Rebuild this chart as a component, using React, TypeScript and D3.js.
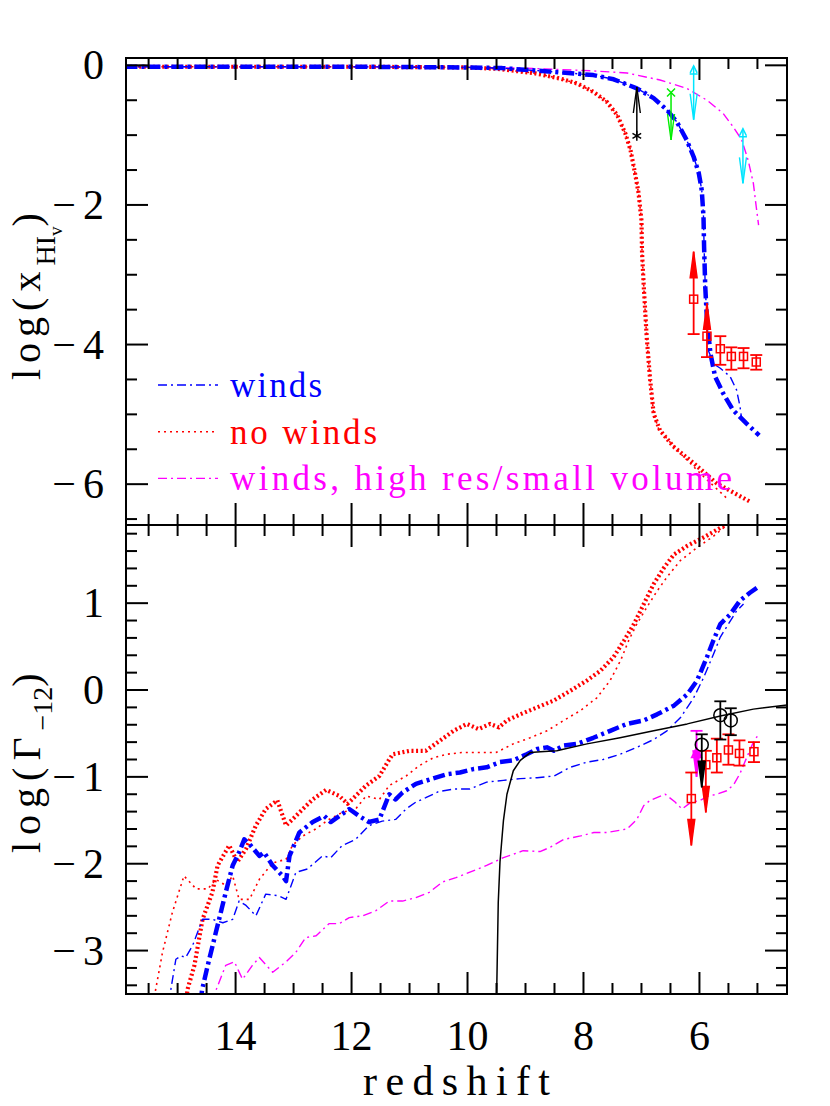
import React, { useEffect, useRef } from "react";
import * as d3 from "d3";

// axis ranges
const zRange = [15.89, 4.49];
const xhiRange = [0.105, -6.585];
const gammaRange = [1.9, -3.5];

const zTickLabels = ["14", "12", "10", "8", "6"];
const xhiTickLabels = ["0", "−2", "−4", "−6"];
const gammaTickLabels = ["1", "0", "−1", "−2", "−3"];

// top panel: log x_HI,v   ([redshift, value])
const windsXhi = [
  [15.9, -0.02], [12, -0.02], [10, -0.03], [9.4, -0.04], [8.9, -0.07], [8.4, -0.1],
  [7.83, -0.14], [7.48, -0.2], [7.08, -0.33], [6.79, -0.47], [6.56, -0.64], [6.39, -0.81],
  [6.22, -1.07], [6.1, -1.31], [6.01, -1.55], [5.96, -1.79], [5.93, -2.17], [5.92, -2.6],
  [5.9, -3.17], [5.87, -3.65], [5.81, -4.13], [5.73, -4.46], [5.59, -4.7], [5.42, -4.94],
  [5.19, -5.13], [4.97, -5.3],
];
const windsXhiThin = [
  [15.9, -0.02], [12, -0.02], [10, -0.03], [9.4, -0.04], [8.9, -0.07], [8.4, -0.1],
  [7.83, -0.14], [7.48, -0.2], [7.08, -0.33], [6.79, -0.47], [6.56, -0.64], [6.39, -0.81],
  [6.22, -1.07], [6.1, -1.31], [6.01, -1.55], [5.96, -1.79], [5.93, -2.17], [5.92, -2.6],
  [5.9, -3.17], [5.87, -3.65], [5.84, -4.1], [5.75, -4.28], [5.64, -4.34], [5.47, -4.46],
  [5.36, -4.65], [5.3, -4.89], [5.27, -5.08],
];
const noWindsXhi = [
  [15.9, -0.02], [12, -0.02], [10, -0.03], [9.5, -0.05], [8.86, -0.11], [8.4, -0.19],
  [8.11, -0.26], [7.83, -0.38], [7.6, -0.52], [7.42, -0.71], [7.28, -0.97], [7.19, -1.21],
  [7.11, -1.55], [7.05, -1.83], [7.0, -2.22], [6.99, -2.69], [6.96, -3.17], [6.91, -3.89],
  [6.85, -4.51], [6.79, -4.99], [6.68, -5.23], [6.45, -5.46], [6.1, -5.7], [5.7, -5.99],
  [5.13, -6.25],
];
const noWindsXhiThin = [
  [15.9, -0.02], [12, -0.02], [10, -0.03], [9.5, -0.05], [8.86, -0.11], [8.4, -0.19],
  [8.11, -0.26], [7.83, -0.38], [7.6, -0.52], [7.42, -0.71], [7.28, -0.97], [7.19, -1.21],
  [7.11, -1.55], [7.05, -1.83], [7.0, -2.22], [6.99, -2.69], [6.96, -3.17], [6.91, -3.89],
  [6.85, -4.51], [6.79, -4.99], [6.7, -5.22], [6.33, -5.56], [5.93, -5.89], [5.53, -6.2],
];
const hiresXhi = [
  [15.9, -0.02], [12, -0.02], [10, -0.03], [9, -0.04], [8.4, -0.06], [7.83, -0.08],
  [7.25, -0.11], [6.68, -0.21], [6.22, -0.33], [5.87, -0.5], [5.59, -0.69], [5.42, -0.88],
  [5.27, -1.07], [5.16, -1.36], [5.07, -1.69], [5.02, -2.03], [4.98, -2.29],
];

// bottom panel: log Gamma_-12
const windsGamma = [
  [14.6, -3.6], [14.58, -3.46], [14.48, -3.17], [14.34, -2.79], [14.17, -2.33], [14.05, -2.02],
  [13.94, -1.87], [13.85, -1.72], [13.74, -1.79], [13.59, -1.91], [13.51, -1.87], [13.36, -2.02],
  [13.19, -2.14], [13.13, -2.2], [13.07, -1.91], [12.9, -1.64], [12.67, -1.52], [12.47, -1.45],
  [12.36, -1.52], [12.21, -1.45], [12.04, -1.37], [11.87, -1.45], [11.7, -1.52], [11.52, -1.49],
  [11.35, -1.2], [11.24, -1.26], [11.12, -1.18], [10.89, -1.08], [10.6, -1.02], [10.36, -0.97],
  [10.13, -0.95], [9.9, -0.91], [9.67, -0.89], [9.44, -0.83], [9.21, -0.81], [8.98, -0.74],
  [8.8, -0.68], [8.63, -0.66], [8.51, -0.7], [8.34, -0.64], [8.11, -0.62], [7.83, -0.55],
  [7.54, -0.47], [7.25, -0.39], [6.96, -0.35], [6.73, -0.28], [6.44, -0.18], [6.21, -0.05],
  [6.04, 0.11], [5.87, 0.38], [5.76, 0.57], [5.64, 0.76], [5.47, 0.87], [5.3, 1.03],
  [5.13, 1.12], [4.96, 1.2],
];
const windsGammaThin = [
  [15.15, -3.6], [15.11, -3.42], [15.03, -3.1], [14.94, -3.06], [14.86, -3.08], [14.74, -2.94],
  [14.57, -2.64], [14.4, -2.64], [14.22, -2.68], [14.05, -2.64], [13.94, -2.43], [13.82, -2.48],
  [13.65, -2.6], [13.48, -2.35], [13.25, -2.37], [13.13, -2.41], [12.96, -2.1], [12.76, -2.06],
  [12.5, -1.91], [12.36, -1.93], [12.16, -1.79], [11.93, -1.72], [11.7, -1.56], [11.47, -1.51],
  [11.24, -1.49], [11.06, -1.37], [10.89, -1.29], [10.72, -1.24], [10.5, -1.17], [10.24, -1.14],
  [9.96, -1.14], [9.67, -1.06], [9.38, -1.04], [9.09, -1.02], [8.8, -1.01], [8.51, -0.99],
  [8.23, -0.89], [7.94, -0.83], [7.66, -0.8], [7.37, -0.74], [7.08, -0.66], [6.79, -0.57],
  [6.56, -0.47], [6.33, -0.32], [6.1, -0.09], [5.93, 0.14], [5.76, 0.41], [5.64, 0.61],
  [5.5, 0.76], [5.36, 0.91], [5.24, 0.99],
];
const noWindsGamma = [
  [14.85, -3.6], [14.83, -3.45], [14.71, -3.17], [14.57, -2.64], [14.4, -2.33], [14.31, -2.02],
  [14.11, -1.79], [13.97, -1.98], [13.82, -1.83], [13.65, -1.56], [13.48, -1.37], [13.28, -1.27],
  [13.13, -1.56], [13.02, -1.49], [12.84, -1.37], [12.67, -1.26], [12.44, -1.15], [12.21, -1.22],
  [12.07, -1.31], [11.93, -1.22], [11.75, -1.1], [11.52, -0.99], [11.35, -0.8], [11.29, -0.74],
  [11.0, -0.7], [10.72, -0.7], [10.47, -0.58], [10.24, -0.47], [10.01, -0.39], [9.81, -0.45],
  [9.61, -0.39], [9.46, -0.43], [9.32, -0.35], [9.09, -0.28], [8.8, -0.2], [8.51, -0.12],
  [8.23, -0.01], [7.94, 0.11], [7.71, 0.22], [7.48, 0.38], [7.3, 0.57], [7.13, 0.76],
  [6.96, 0.99], [6.79, 1.22], [6.61, 1.41], [6.44, 1.56], [6.21, 1.66], [5.92, 1.76],
  [5.58, 1.89], [5.45, 1.95],
];
const noWindsGammaThin = [
  [15.42, -3.6], [15.26, -3.02], [15.09, -2.56], [14.89, -2.14], [14.68, -2.29], [14.48, -2.29],
  [14.34, -2.18], [14.17, -2.25], [14.05, -2.14], [13.94, -2.41], [13.76, -2.41], [13.59, -2.18],
  [13.36, -1.99], [13.13, -1.95], [13.02, -1.79], [12.84, -1.68], [12.62, -1.6], [12.39, -1.49],
  [12.16, -1.41], [11.93, -1.37], [11.75, -1.22], [11.52, -1.26], [11.35, -1.1], [11.06, -0.99],
  [10.83, -0.87], [10.59, -0.78], [10.36, -0.74], [10.1, -0.72], [9.8, -0.72], [9.51, -0.72],
  [9.21, -0.62], [8.92, -0.55], [8.63, -0.47], [8.34, -0.35], [8.06, -0.24], [7.77, -0.09],
  [7.54, 0.11], [7.36, 0.34], [7.22, 0.57], [7.08, 0.76], [6.91, 0.95], [6.73, 1.14],
  [6.56, 1.3], [6.33, 1.49], [6.04, 1.64], [5.76, 1.77], [5.58, 1.87], [5.45, 1.95],
];
const hiresGamma = [
  [14.36, -3.6], [14.34, -3.46], [14.17, -3.17], [14.02, -3.13], [13.88, -3.33], [13.71, -3.17],
  [13.59, -3.08], [13.36, -3.25], [13.13, -3.13], [12.96, -3.02], [12.79, -2.85], [12.61, -2.83],
  [12.39, -2.69], [12.21, -2.69], [12.04, -2.62], [11.81, -2.6], [11.58, -2.54], [11.35, -2.43],
  [11.12, -2.43], [10.89, -2.39], [10.66, -2.33], [10.43, -2.21], [10.2, -2.16], [9.97, -2.1],
  [9.67, -2.02], [9.38, -1.93], [9.04, -1.85], [8.75, -1.86], [8.57, -1.81], [8.34, -1.72],
  [8.05, -1.68], [7.82, -1.64], [7.59, -1.64], [7.25, -1.6], [7.08, -1.49], [6.96, -1.33],
  [6.85, -1.27], [6.59, -1.2], [6.42, -1.29], [6.3, -1.37], [6.16, -1.3], [5.99, -1.27],
  [5.84, -1.22], [5.7, -1.2], [5.53, -1.16], [5.41, -1.09], [5.3, -0.96], [5.18, -0.77],
  [5.07, -0.6], [4.98, -0.51],
];
const modelGamma = [
  [9.5, -3.6], [9.47, -2.45], [9.44, -1.98], [9.38, -1.5], [9.32, -1.2], [9.21, -0.93],
  [9.09, -0.81], [8.92, -0.72], [8.74, -0.71], [8.46, -0.7], [7.94, -0.62], [7.37, -0.55],
  [6.79, -0.47], [6.21, -0.39], [5.64, -0.3], [5.07, -0.22], [4.45, -0.17],
];

// observed points: value, bar ends, and which end is a limit arrow
const fanXhi = [
  { z: 6.1, v: -3.35, lo: -3.85, hi: -2.67, limit: "up" },
  { z: 5.87, v: -3.88, lo: -4.18, hi: -3.41, limit: "up" },
  { z: 5.64, v: -4.06, lo: -4.29, hi: -3.88, limit: "" },
  { z: 5.45, v: -4.17, lo: -4.36, hi: -4.04, limit: "" },
  { z: 5.24, v: -4.17, lo: -4.34, hi: -4.05, limit: "" },
  { z: 5.02, v: -4.25, lo: -4.36, hi: -4.15, limit: "" },
];
const fanGamma = [
  { z: 6.14, v: -1.25, lo: -1.79, hi: -0.95, limit: "down" },
  { z: 5.89, v: -0.86, lo: -1.41, hi: -0.7, limit: "down" },
  { z: 5.7, v: -0.78, lo: -0.95, hi: -0.56, limit: "" },
  { z: 5.5, v: -0.69, lo: -0.86, hi: -0.51, limit: "" },
  { z: 5.31, v: -0.73, lo: -0.87, hi: -0.58, limit: "" },
  { z: 5.06, v: -0.71, lo: -0.83, hi: -0.6, limit: "" },
];
const bhGamma = [
  { z: 5.96, v: -0.63, lo: -1.12, hi: -0.51, limit: "down" },
  { z: 5.64, v: -0.29, lo: -0.57, hi: -0.13, limit: "" },
  { z: 5.46, v: -0.35, lo: -0.52, hi: -0.21, limit: "" },
];
const magentaGamma = [{ z: 6.05, v: -0.72, lo: -1.0, hi: -0.47, limit: "down" }];
const blackLimitXhi = [{ z: 7.08, v: -1.01, tip: -0.31 }];
const greenLimitXhi = [{ z: 6.49, v: -0.39, tip: -1.07 }];
const cyanLimitXhi = [
  { z: 6.1, v: -0.08, tip: -0.78 },
  { z: 5.25, v: -0.98, tip: -1.69 },
];

const legendLabels = ["winds", "no winds", "winds, high res/small volume"];
const legendWidths = [92, 147, 502];

const BLUE = "#0000ff";
const RED = "#ff0000";
const MAGENTA = "#ff00ff";
const FONT = "Liberation Serif";

const App = () => {
  const svgRef = useRef(null);

  useEffect(() => {
    const svg = d3.select(svgRef.current);
    svg.selectAll("*").remove();

    const L = 126, R = 787, T = 58, M = 525, B = 994;

    const x = d3.scaleLinear().domain(zRange).range([L, R]);
    const yTop = d3.scaleLinear().domain(xhiRange).range([T, M]);
    const yBot = d3.scaleLinear().domain(gammaRange).range([M, B]);

    const defs = svg.append("defs");
    defs.append("clipPath").attr("id", "clipTop")
      .append("rect").attr("x", L).attr("y", T).attr("width", R - L).attr("height", M - T);
    defs.append("clipPath").attr("id", "clipBot")
      .append("rect").attr("x", L).attr("y", M).attr("width", R - L).attr("height", B - M);

    const styles = {
      windsThick: { c: BLUE, w: 4.5, d: "12,4,3,4" },
      windsThin: { c: BLUE, w: 1.4, d: "9,4,2,4" },
      noThick: { c: RED, w: 4.2, d: "2,2.6" },
      noThin: { c: RED, w: 1.6, d: "2,4" },
      hires: { c: MAGENTA, w: 1.4, d: "9,4,2,4" },
      model: { c: "#000", w: 1.5, d: null },
    };

    const drawCurve = (g, data, y, s) => {
      const line = d3.line().x((d) => x(d[0])).y((d) => y(d[1]));
      g.append("path")
        .attr("d", line(data))
        .attr("fill", "none")
        .attr("stroke", s.c)
        .attr("stroke-width", s.w)
        .attr("stroke-dasharray", s.d)
        .attr("stroke-linejoin", "round");
    };

    // ---- curves
    const gTop = svg.append("g").attr("clip-path", "url(#clipTop)");
    drawCurve(gTop, hiresXhi, yTop, styles.hires);
    drawCurve(gTop, noWindsXhiThin, yTop, styles.noThin);
    drawCurve(gTop, noWindsXhi, yTop, styles.noThick);
    drawCurve(gTop, windsXhiThin, yTop, styles.windsThin);
    drawCurve(gTop, windsXhi, yTop, styles.windsThick);

    const gBot = svg.append("g").attr("clip-path", "url(#clipBot)");
    drawCurve(gBot, hiresGamma, yBot, styles.hires);
    drawCurve(gBot, noWindsGammaThin, yBot, styles.noThin);
    drawCurve(gBot, noWindsGamma, yBot, styles.noThick);
    drawCurve(gBot, windsGammaThin, yBot, styles.windsThin);
    drawCurve(gBot, windsGamma, yBot, styles.windsThick);
    drawCurve(gBot, modelGamma, yBot, styles.model);

    // ---- observations
    const arrowHead = (g, px, tipY, dir, color, filled) => {
      // dir = -1 points up, +1 points down
      const len = 26, hw = 3.5;
      g.append("path")
        .attr("d", `M${px - hw},${tipY - dir * len}L${px},${tipY}L${px + hw},${tipY - dir * len}${filled ? "Z" : ""}`)
        .attr("fill", filled ? color : "none")
        .attr("stroke", color)
        .attr("stroke-width", 1.4);
    };
    const cap = (g, px, py, color, hw) => {
      g.append("line").attr("x1", px - hw).attr("x2", px + hw).attr("y1", py).attr("y2", py)
        .attr("stroke", color).attr("stroke-width", 1.8);
    };

    const drawObs = (g, data, y, color, marker) => {
      data.forEach((d) => {
        const px = x(d.z);
        g.append("line").attr("x1", px).attr("x2", px).attr("y1", y(d.lo)).attr("y2", y(d.hi))
          .attr("stroke", color).attr("stroke-width", 1.8);
        if (d.limit === "up") arrowHead(g, px, y(d.hi), -1, color, true);
        else cap(g, px, y(d.hi), color, 6);
        if (d.limit === "down") arrowHead(g, px, y(d.lo), 1, color, true);
        else cap(g, px, y(d.lo), color, 6);
        const py = y(d.v);
        if (marker === "square") {
          g.append("rect").attr("x", px - 4).attr("y", py - 4).attr("width", 8).attr("height", 8)
            .attr("fill", "none").attr("stroke", color).attr("stroke-width", 1.5);
        } else if (marker === "circle") {
          g.append("circle").attr("cx", px).attr("cy", py).attr("r", 6.5)
            .attr("fill", "none").attr("stroke", color).attr("stroke-width", 1.5);
        } else {
          g.append("path")
            .attr("d", `M${px - 5},${py + 5}L${px},${py - 5}L${px + 5},${py + 5}Z`)
            .attr("fill", "none").attr("stroke", color).attr("stroke-width", 1.5);
        }
      });
    };

    const gObsTop = svg.append("g").attr("clip-path", "url(#clipTop)");
    drawObs(gObsTop, fanXhi, yTop, RED, "square");

    blackLimitXhi.forEach((d) => {
      const px = x(d.z), py = yTop(d.v);
      gObsTop.append("line").attr("x1", px).attr("x2", px).attr("y1", py).attr("y2", yTop(d.tip))
        .attr("stroke", "#000").attr("stroke-width", 1.5);
      arrowHead(gObsTop, px, yTop(d.tip), -1, "#000", false);
      [0, 60, 120].forEach((a) => {
        const r = (a * Math.PI) / 180;
        gObsTop.append("line")
          .attr("x1", px - 5 * Math.sin(r)).attr("y1", py - 5 * Math.cos(r))
          .attr("x2", px + 5 * Math.sin(r)).attr("y2", py + 5 * Math.cos(r))
          .attr("stroke", "#000").attr("stroke-width", 1.5);
      });
    });
    greenLimitXhi.forEach((d) => {
      const px = x(d.z), py = yTop(d.v);
      gObsTop.append("line").attr("x1", px).attr("x2", px).attr("y1", py).attr("y2", yTop(d.tip))
        .attr("stroke", "#00ee00").attr("stroke-width", 1.5);
      arrowHead(gObsTop, px, yTop(d.tip), 1, "#00ee00", false);
      gObsTop.append("path")
        .attr("d", `M${px - 4},${py - 4}L${px + 4},${py + 4}M${px - 4},${py + 4}L${px + 4},${py - 4}`)
        .attr("stroke", "#00ee00").attr("stroke-width", 1.5);
    });
    cyanLimitXhi.forEach((d) => {
      const px = x(d.z), py = yTop(d.v);
      gObsTop.append("line").attr("x1", px).attr("x2", px).attr("y1", py - 5).attr("y2", yTop(d.tip))
        .attr("stroke", "#00e5ff").attr("stroke-width", 1.5);
      arrowHead(gObsTop, px, yTop(d.tip), 1, "#00e5ff", false);
      gObsTop.append("path")
        .attr("d", `M${px - 3.5},${py + 2}L${px},${py - 5}L${px + 3.5},${py + 2}M${px - 4},${py + 3}L${px + 4},${py + 3}`)
        .attr("fill", "none").attr("stroke", "#00e5ff").attr("stroke-width", 1.5);
    });

    const gObsBot = svg.append("g").attr("clip-path", "url(#clipBot)");
    drawObs(gObsBot, magentaGamma, yBot, MAGENTA, "triangle");
    drawObs(gObsBot, fanGamma, yBot, RED, "square");
    drawObs(gObsBot, bhGamma, yBot, "#000", "circle");

    // ---- frames and ticks
    const zMinor = d3.range(5, 16, 0.5);
    const zMajor = [6, 8, 10, 12, 14];
    const tickLine = (px1, py1, px2, py2) =>
      svg.append("line").attr("x1", px1).attr("y1", py1).attr("x2", px2).attr("y2", py2)
        .attr("stroke", "#000").attr("stroke-width", 2);

    const panelTicks = (y, top, bottom, yMinor, yMajor) => {
      zMinor.forEach((z) => {
        const len = zMajor.includes(z) ? 22 : 11;
        tickLine(x(z), top, x(z), top + len);
        tickLine(x(z), bottom, x(z), bottom - len);
      });
      yMinor.forEach((v) => {
        const len = yMajor.some((m) => Math.abs(m - v) < 1e-6) ? 22 : 11;
        tickLine(L, y(v), L + len, y(v));
        tickLine(R, y(v), R - len, y(v));
      });
      svg.append("rect").attr("x", L).attr("y", top).attr("width", R - L).attr("height", bottom - top)
        .attr("fill", "none").attr("stroke", "#000").attr("stroke-width", 2);
    };

    const xhiMajor = [0, -2, -4, -6];
    panelTicks(yTop, T, M, d3.range(0, 14).map((i) => -i / 2), xhiMajor);
    const gammaMajor = [1, 0, -1, -2, -3];
    panelTicks(yBot, M, B, d3.range(-17, 10).map((i) => i / 5), gammaMajor);

    // ---- tick labels
    const label = (px, py, s, anchor) => {
      const t = svg.append("text").attr("x", px).attr("y", py)
        .attr("text-anchor", anchor).attr("font-family", FONT).attr("font-size", 42).attr("fill", "#000");
      if (s.startsWith("−")) {
        t.append("tspan").text("−");
        t.append("tspan").attr("dx", 7).text(s.slice(1));
      } else t.text(s);
    };
    xhiTickLabels.forEach((s, i) => label(104, yTop(xhiMajor[i]) + 14, s, "end"));
    gammaTickLabels.forEach((s, i) => label(104, yBot(gammaMajor[i]) + 14, s, "end"));
    zTickLabels.forEach((s) => label(x(+s), 1050, s, "middle"));

    svg.append("text").attr("x", (L + R) / 2).attr("y", 1095)
      .attr("text-anchor", "middle").attr("font-family", FONT).attr("font-size", 42)
      .attr("textLength", 187).attr("lengthAdjust", "spacing").text("redshift");

    // ---- y titles
    const t1 = svg.append("text").attr("transform", "translate(40,380) rotate(-90)")
      .attr("font-family", FONT).attr("font-size", 40);
    t1.append("tspan").attr("letter-spacing", 6).text("log(x");
    t1.append("tspan").attr("font-size", 28).attr("dy", 15).text("HI");
    t1.append("tspan").attr("font-size", 19).attr("dy", 7).text("v");
    t1.append("tspan").attr("dy", -22).text(")");

    const t2 = svg.append("text").attr("transform", "translate(40,853) rotate(-90)")
      .attr("font-family", FONT).attr("font-size", 40);
    t2.append("tspan").attr("letter-spacing", 7).text("log(Γ");
    t2.append("tspan").attr("font-size", 28).attr("dy", 12).text("−12");
    t2.append("tspan").attr("dy", -12).text(")");

    // ---- legend
    const legendStyles = [styles.windsThin, styles.noThin, styles.hires];
    const legendColors = [BLUE, RED, MAGENTA];
    legendLabels.forEach((s, i) => {
      const ly = 385 + i * 46.7;
      svg.append("line").attr("x1", 158).attr("x2", 218).attr("y1", ly).attr("y2", ly)
        .attr("stroke", legendStyles[i].c).attr("stroke-width", legendStyles[i].w)
        .attr("stroke-dasharray", legendStyles[i].d);
      svg.append("text").attr("x", 230).attr("y", ly + 12)
        .attr("font-family", FONT).attr("font-size", 35).attr("fill", legendColors[i])
        .attr("textLength", legendWidths[i]).attr("lengthAdjust", "spacing").text(s);
    });
  }, []);

  return (
    <svg
      ref={svgRef}
      width={830}
      height={1106}
      style={{ position: "absolute", left: 0, top: 0, background: "white" }}
    ></svg>
  );
};

export default App;
